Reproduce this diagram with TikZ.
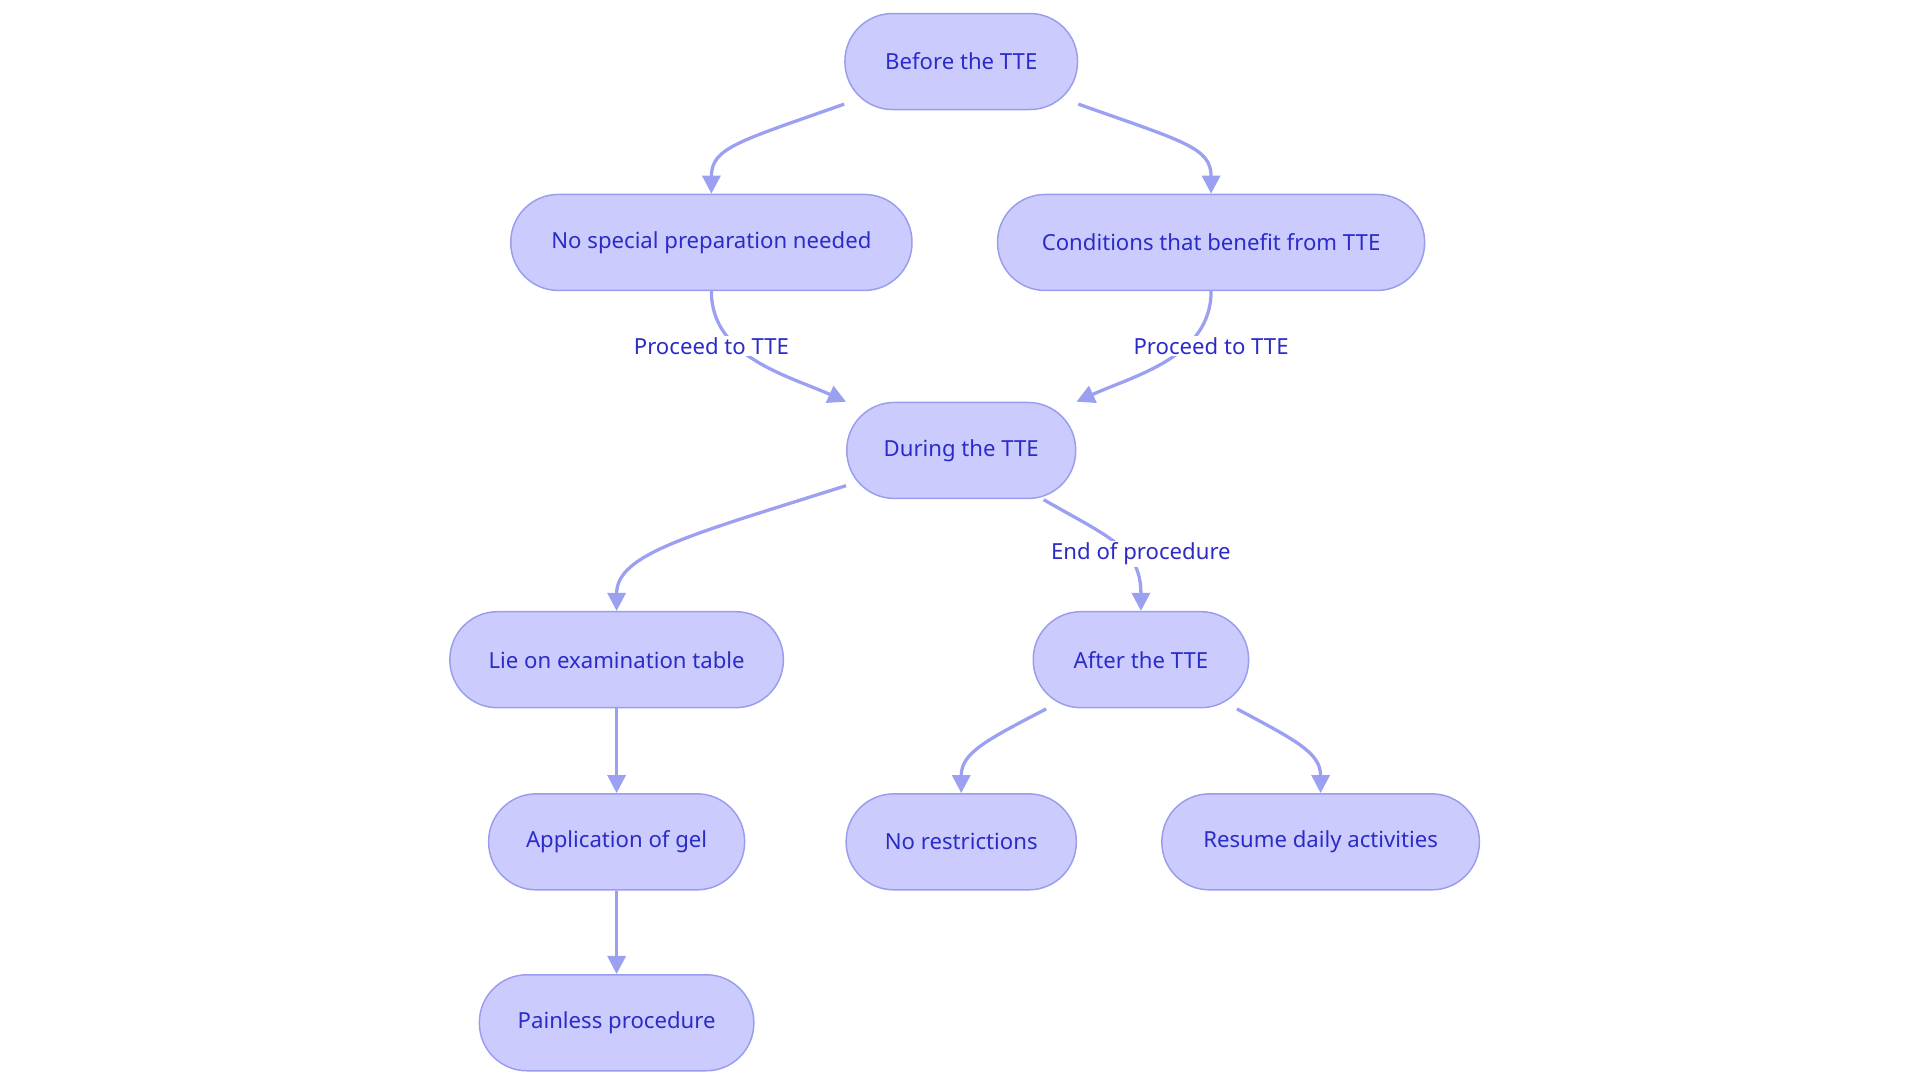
\documentclass[tikz,border=0pt]{standalone}
\usepackage{fontspec}
\setmainfont{Noto Sans}
\usetikzlibrary{arrows.meta}
\definecolor{nfill}{HTML}{CBCCFD}
\definecolor{nline}{HTML}{9A9DEE}
\definecolor{ntext}{HTML}{2B2BC8}
\definecolor{eline}{HTML}{9CA0F0}
\begin{document}
\begin{tikzpicture}[x=0.75pt,y=-0.75pt,
  box/.style={draw=nline,line width=0.9pt,fill=nfill,rounded corners=29pt,minimum height=58.5pt,text=ntext,font=\fontsize{13.5}{16}\selectfont,inner sep=0pt},
  edge/.style={draw=eline,line width=2pt,-{Triangle[length=11pt,width=11pt]}},
  lab/.style={fill=white,text=ntext,font=\fontsize{13.5}{16}\selectfont,inner sep=1pt}]
\useasboundingbox (0,0) rectangle (1560,880);
\node[box,minimum width=141.75pt] (before) at (781,50) {Before the TTE};
\node[box,minimum width=244.5pt] (nospec) at (578,197) {No special preparation needed};
\node[box,minimum width=260.25pt] (cond) at (984,197) {Conditions that benefit from TTE};
\node[box,minimum width=139.5pt] (during) at (781,366) {During the TTE};
\node[box,minimum width=203.25pt] (lie) at (501,536) {Lie on examination table};
\node[box,minimum width=131.25pt] (after) at (927,536) {After the TTE};
\node[box,minimum width=156pt] (app) at (501,684) {Application of gel};
\node[box,minimum width=167.25pt] (pain) at (501,831) {Painless procedure};
\node[box,minimum width=140.25pt] (nores) at (781,684) {No restrictions};
\node[box,minimum width=193.5pt] (resume) at (1073,684) {Resume daily activities};
\path[edge] (before.south west)++(0,-5) .. controls (600,115) and (578,120) .. (nospec.north);
\path[edge] (before.south east)++(0,-5) .. controls (962,115) and (984,120) .. (cond.north);
\path[edge] (nospec.south) .. controls (578,290) and (640,305) .. (during.north west);
\path[edge] (cond.south) .. controls (984,290) and (922,305) .. (during.north east);
\node[lab] (l1) at (578,281) {Proceed to TTE};
\node[lab] (l2) at (984,281) {Proceed to TTE};
\path[edge] (during.south west)++(0,-11) .. controls (560,435) and (501,450) .. (lie.north);
\path[edge] (848,406) .. controls (900,436) and (927,445) .. (after.north);
\node[lab] (l3) at (927,450) {End of procedure};
\path[edge] (lie) -- (app);
\path[edge] (app) -- (pain);
\path[edge] (850,576) .. controls (800,602) and (781,612) .. (nores.north);
\path[edge] (1005,576) .. controls (1054,602) and (1073,612) .. (resume.north);
\end{tikzpicture}
\end{document}
